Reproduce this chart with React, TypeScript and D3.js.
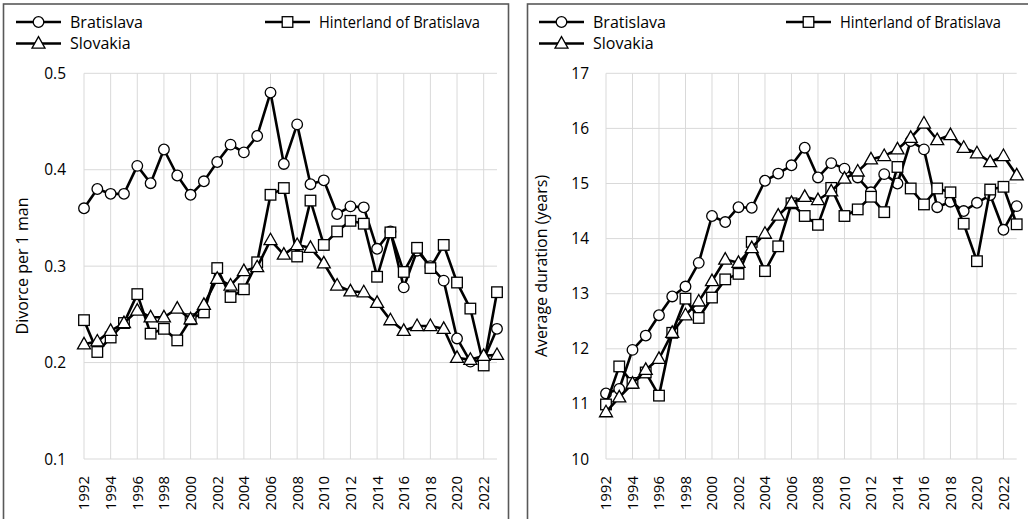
import React from "react";
import * as d3 from "d3";

const years = d3.range(1992, 2024);

// Left panel: divorces per 1 man
const divBratislava = [0.360, 0.380, 0.375, 0.375, 0.404, 0.386, 0.421, 0.394, 0.374, 0.388, 0.408, 0.426, 0.418, 0.435, 0.480, 0.406, 0.447, 0.385, 0.389, 0.354, 0.362, 0.361, 0.318, 0.336, 0.278, 0.316, 0.300, 0.285, 0.225, 0.201, 0.203, 0.235];
const divHinterland = [0.244, 0.211, 0.226, 0.241, 0.271, 0.230, 0.235, 0.223, 0.245, 0.252, 0.298, 0.268, 0.276, 0.304, 0.374, 0.381, 0.310, 0.368, 0.322, 0.336, 0.347, 0.344, 0.289, 0.335, 0.294, 0.319, 0.298, 0.322, 0.283, 0.256, 0.197, 0.273];
const divSlovakia = [0.219, 0.222, 0.233, 0.241, 0.254, 0.247, 0.247, 0.256, 0.245, 0.260, 0.287, 0.280, 0.295, 0.299, 0.327, 0.312, 0.322, 0.319, 0.303, 0.280, 0.274, 0.273, 0.262, 0.244, 0.233, 0.238, 0.238, 0.235, 0.205, 0.203, 0.207, 0.208];

// Right panel: average duration (years)
const durBratislava = [11.19, 11.27, 11.98, 12.24, 12.61, 12.95, 13.13, 13.56, 14.41, 14.30, 14.57, 14.56, 15.05, 15.18, 15.33, 15.65, 15.11, 15.37, 15.27, 15.11, 14.84, 15.17, 15.00, 15.77, 15.62, 14.57, 14.67, 14.50, 14.65, 14.79, 14.16, 14.59];
const durHinterland = [10.99, 11.68, 11.38, 11.57, 11.15, 12.29, 12.91, 12.56, 12.93, 13.26, 13.36, 13.94, 13.41, 13.86, 14.64, 14.41, 14.25, 14.92, 14.41, 14.53, 14.76, 14.48, 15.30, 14.91, 14.62, 14.91, 14.84, 14.27, 13.59, 14.89, 14.94, 14.26];
const durSlovakia = [10.85, 11.12, 11.37, 11.62, 11.82, 12.29, 12.61, 12.86, 13.23, 13.62, 13.56, 13.83, 14.09, 14.42, 14.65, 14.76, 14.70, 14.86, 15.09, 15.22, 15.44, 15.50, 15.62, 15.83, 16.09, 15.79, 15.88, 15.65, 15.55, 15.39, 15.50, 15.15];

const seriesNames = ["Bratislava", "Hinterland of Bratislava", "Slovakia"];
const markerTypes = ["circle", "square", "triangle"];
const xTickYears = d3.range(1992, 2023, 2);
const leftTicks = [0.1, 0.2, 0.3, 0.4, 0.5];
const rightTicks = [10, 11, 12, 13, 14, 15, 16, 17];

const FONT = "'Open Sans', sans-serif";

function Marker({ type, x, y }: { type: string; x: number; y: number }) {
  const st = { fill: "#fff", stroke: "#000", strokeWidth: 1.3 };
  if (type === "circle") return <circle cx={x} cy={y} r={5.3} {...st} />;
  if (type === "square") return <rect x={x - 5.3} y={y - 5.3} width={10.6} height={10.6} {...st} />;
  const h = 11.5, w = 13;
  return <path d={`M${x},${y - h * 0.6}L${x + w / 2},${y + h * 0.4}L${x - w / 2},${y + h * 0.4}Z`} {...st} />;
}

function Panel(props: {
  ox: number; w: number; plotL: number; plotR: number; yDomain: [number, number]; ticks: number[];
  fmt: (v: number) => string; tickEnd: number; title: string; titleX: number;
  data: number[][]; legend: { l1: number; l2: number; t1: number; t2: number };
}) {
  const { plotL, plotR, yDomain, ticks, fmt, tickEnd, title, titleX, data, legend, ox, w } = props;
  const top = 73.3, bottom = 459;
  const x = d3.scaleLinear().domain([1992, 2023]).range([plotL, plotR]);
  const y = d3.scaleLinear().domain(yDomain).range([bottom, top]);
  const line = d3.line<number>().x((_, i) => x(years[i])).y((d) => y(d));
  const gridC = "#d9d9d9";
  const row1 = 22, row2 = 43.5;
  const legendItems = [
    { lx: legend.l1, tx: legend.t1, yy: row1, i: 0 },
    { lx: legend.l2, tx: legend.t2, yy: row1, i: 1 },
    { lx: legend.l1, tx: legend.t1, yy: row2, i: 2 },
  ];
  return (
    <g>
      <rect x={ox} y={4} width={w} height={530} fill="#fff" stroke="#595959" strokeWidth={1.6} />
      {ticks.map((t) => (
        <line key={"h" + t} x1={plotL} x2={plotR} y1={y(t)} y2={y(t)} stroke={gridC} strokeWidth={1} />
      ))}
      {xTickYears.map((yr) => (
        <line key={"v" + yr} x1={x(yr)} x2={x(yr)} y1={top} y2={bottom} stroke={gridC} strokeWidth={1} />
      ))}
      {ticks.map((t) => (
        <text key={"t" + t} x={tickEnd} y={y(t)} dy="0.36em" textAnchor="end" fontFamily={FONT} fontSize={15.5} fill="#000">
          {fmt(t)}
        </text>
      ))}
      {xTickYears.map((yr) => (
        <text key={"xt" + yr} transform={`translate(${x(yr)},${476}) rotate(-90)`} dy="0.36em" textAnchor="end" fontFamily={FONT} fontSize={15} fill="#000">
          {yr}
        </text>
      ))}
      <text transform={`translate(${titleX},${266}) rotate(-90)`} textAnchor="middle" dy="0.35em" fontFamily={FONT} fontSize={16} fill="#000">
        {title}
      </text>
      {data.map((vals, si) => (
        <g key={"s" + si}>
          <path d={line(vals) || ""} fill="none" stroke="#000" strokeWidth={2.6} strokeLinejoin="round" />
          {vals.map((v, i) => (
            <Marker key={i} type={markerTypes[si]} x={x(years[i])} y={y(v)} />
          ))}
        </g>
      ))}
      {legendItems.map((it) => (
        <g key={"lg" + it.i}>
          <line x1={it.lx} x2={it.lx + 45} y1={it.yy} y2={it.yy} stroke="#000" strokeWidth={2.6} />
          <Marker type={markerTypes[it.i]} x={it.lx + 22.5} y={it.yy} />
          <text x={it.tx} y={it.yy} dy="0.35em" fontFamily={FONT} fontSize={16} fill="#000"
            {...(it.i === 1 ? { textLength: 161, lengthAdjust: "spacingAndGlyphs" } : {})}>
            {seriesNames[it.i]}
          </text>
        </g>
      ))}
    </g>
  );
}

export default function App() {
  return (
    <svg width={1028} height={519} style={{ position: "absolute", left: 0, top: 0, background: "#fff" }}>
      <Panel ox={3.5} w={505} plotL={84} plotR={497} yDomain={[0.1, 0.5]} ticks={leftTicks}
        fmt={(v) => d3.format(".1f")(v)} tickEnd={66} title="Divorce per 1 man" titleX={22}
        data={[divBratislava, divHinterland, divSlovakia]}
        legend={{ l1: 16, l2: 265, t1: 70, t2: 319 }} />
      <Panel ox={527.5} w={520} plotL={606} plotR={1016.7} yDomain={[10, 17]} ticks={rightTicks}
        fmt={(v) => String(v)} tickEnd={589} title="Average duration (years)" titleX={541}
        data={[durBratislava, durHinterland, durSlovakia]}
        legend={{ l1: 539, l2: 786, t1: 593, t2: 840 }} />
    </svg>
  );
}
